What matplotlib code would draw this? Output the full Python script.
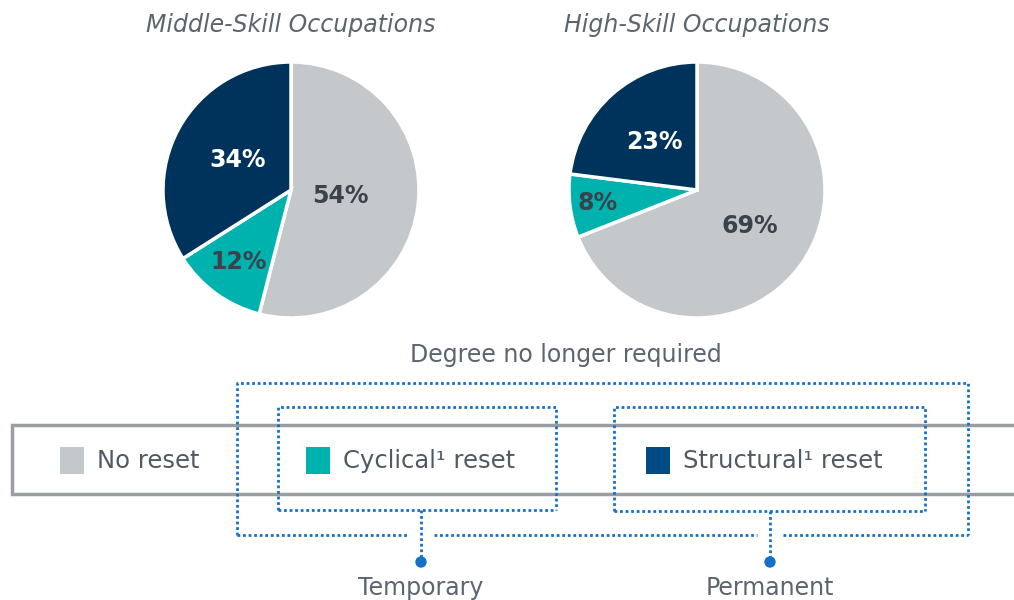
import matplotlib
matplotlib.use("Agg")
import matplotlib.pyplot as plt
import numpy as np
from matplotlib.patches import Rectangle, Circle

# ---- data ----
categories = ["No reset", "Cyclical\u00b9 reset", "Structural\u00b9 reset"]
middle_values = [54, 12, 34]
high_values = [69, 8, 23]
titles = ["Middle-Skill Occupations", "High-Skill Occupations"]
groups = ["Temporary", "Permanent"]
outer_label = "Degree no longer required"

# ---- style ----
pie_colors = ["#C5C8CB", "#00B2AE", "#00335C"]
legend_colors = ["#C5C8CB", "#00B2AE", "#004A85"]
label_colors = ["#3A424C", "#3A424C", "white"]
text_gray = "#5B6570"
dot_blue = "#1570C8"

W, H = 1014, 600
fig = plt.figure(figsize=(W / 100, H / 100), dpi=100)


def px_axes(cx, cy, r):
    return fig.add_axes([(cx - r) / W, (H - cy - r) / H, 2 * r / W, 2 * r / H])


def draw_pie(cx, cy, r, values, title, label_r):
    ax = px_axes(cx, cy, r)
    wedges, _ = ax.pie(values, colors=pie_colors, startangle=90, counterclock=False,
                       wedgeprops=dict(edgecolor="white", linewidth=2.5), radius=1)
    ax.set_xlim(-1.0, 1.0)
    ax.set_ylim(-1.0, 1.0)
    ax.set_aspect("equal")
    ax.axis("off")
    for w in wedges:
        w.set_clip_on(False)
    for w, v, lr, tc in zip(wedges, values, label_r, label_colors):
        ang = np.deg2rad((w.theta1 + w.theta2) / 2)
        ax.text(lr * np.cos(ang), lr * np.sin(ang), f"{v}%", ha="center", va="center",
                fontsize=17, fontweight="bold", color=tc)
    fig.text(cx / W, 1 - 25 / H, title, ha="center", va="center", fontsize=17,
             style="italic", color=text_gray)


draw_pie(291, 190, 128, middle_values, titles[0], [0.39, 0.70, 0.48])
draw_pie(697, 190, 128, high_values, titles[1], [0.50, 0.78, 0.50])

# ---- overlay for legend & annotation (pixel coords) ----
ov = fig.add_axes([0, 0, 1, 1])
ov.set_xlim(0, W)
ov.set_ylim(H, 0)
ov.axis("off")

# legend box
ov.add_patch(Rectangle((12, 425), 1010, 69, facecolor="white", edgecolor="#9A9EA2", lw=2.5))
leg_x = [60, 306, 646]
for x, c, lab in zip(leg_x, legend_colors, categories):
    ov.add_patch(Rectangle((x, 447), 24, 27, facecolor=c, edgecolor="none"))
    ov.text(x + 37, 461, lab, ha="left", va="center", fontsize=17.5, color="#505A64")

dot_kw = dict(color=dot_blue, lw=2, ls=(0, (1, 1)))


def dotted_rect(x0, y0, x1, y1, gaps=()):
    ov.plot([x0, x0, x1, x1], [y1, y0, y0, y1], **dot_kw)
    xs = [x0]
    for g0, g1 in gaps:
        xs += [g0, g1]
    xs.append(x1)
    for a, b in zip(xs[0::2], xs[1::2]):
        ov.plot([a, b], [y1, y1], **dot_kw)


dotted_rect(237, 383, 968, 535, gaps=[(408, 434), (757, 783)])
dotted_rect(278, 407, 556, 510)
dotted_rect(614, 407, 925, 511)

for x, y0, lab in zip([421, 770], [510, 511], groups):
    ov.plot([x, x], [y0, 560], **dot_kw)
    ov.add_patch(Circle((x, 562), 5, color=dot_blue))
    ov.text(x, 588, lab, ha="center", va="center", fontsize=17, color=text_gray)

ov.text(566, 355, outer_label, ha="center", va="center", fontsize=17, color=text_gray)

fig.savefig("out.png", dpi=100)
